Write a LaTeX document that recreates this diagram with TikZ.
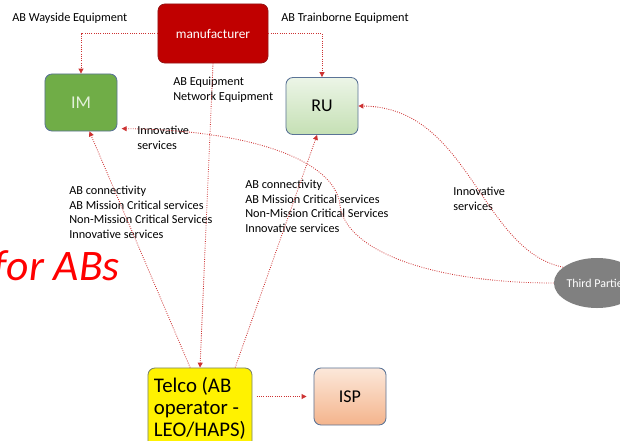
\documentclass[tikz,border=0pt]{standalone}
\usepackage{fontspec}
\setmainfont{Carlito}
\usetikzlibrary{arrows.meta,shapes.geometric}
\definecolor{linkred}{RGB}{205,50,50}
\definecolor{mfrred}{RGB}{192,0,0}
\definecolor{mfredge}{RGB}{150,20,20}
\definecolor{boxedge}{RGB}{90,115,150}
\definecolor{imgreen}{RGB}{112,173,71}
\definecolor{imtext}{RGB}{226,240,217}
\definecolor{rutop}{RGB}{236,245,231}
\definecolor{rubot}{RGB}{197,224,180}
\definecolor{isptop}{RGB}{252,232,218}
\definecolor{ispbot}{RGB}{244,180,140}
\definecolor{telcoedge}{RGB}{120,130,110}
\definecolor{tpgray}{RGB}{128,128,128}
\begin{document}
\begin{tikzpicture}[x=0.025cm,y=-0.025cm,
    box/.style={draw=boxedge,rounded corners=5pt,line width=0.6pt,align=center},
    link/.style={linkred,densely dotted,line width=0.6pt,-{Triangle[length=3.5pt,width=3.5pt]}},
    lbl/.style={font=\fontsize{8.7}{10.3}\selectfont,align=left,inner sep=0pt,anchor=north west} ]
    \useasboundingbox (0,0) rectangle (620,441);
    \node at (213,33.5) [box,fill=mfrred,draw=mfredge,minimum width=2.75cm,minimum height=1.475cm,text=white,font=\fontsize{9.5}{11}\selectfont] (mfr) {manufacturer};
    \node at (81,102.5) [box,fill=imgreen,minimum width=1.8cm,minimum height=1.425cm,text=imtext,font=\fontsize{12.8}{14}\selectfont] (IM) {IM};
    \node at (322,106) [box,top color=rutop,bottom color=rubot,minimum width=1.8cm,minimum height=1.425cm,font=\fontsize{12.8}{14}\selectfont] (RU) {RU};
    \node at (200,408) [box,fill=yellow,draw=telcoedge,minimum width=2.6cm,minimum height=2cm,align=left,font=\fontsize{14.8}{15.6}\selectfont] (telco) {Telco (AB\\operator -\\LEO/HAPS)};
    \node at (350,396.5) [box,top color=isptop,bottom color=ispbot,minimum width=1.8cm,minimum height=1.425cm,font=\fontsize{12.8}{14}\selectfont] (isp) {ISP};
    \node at (597,283) [ellipse,fill=tpgray,inner sep=0pt,minimum width=2.1cm,minimum height=1.25cm,text=white,font=\fontsize{8.5}{10}\selectfont] (tp) {Third Parties};
    \node at (120,280) [anchor=base east,inner sep=0pt,text=red,font=\fontsize{31}{31}\selectfont\itshape] (ttl) {for ABs};
    % labels
    \node at (12,18) [lbl,anchor=west] (l1) {AB Wayside Equipment};
    \node at (281,18) [lbl,anchor=west] (l2) {AB Trainborne Equipment};
    \node at (173,77) [lbl] (l3) {AB Equipment\\Network Equipment};
    \node at (137,126) [lbl] (l4) {Innovative\\services};
    \node at (69,186) [lbl] (l5) {AB connectivity\\AB Mission Critical services\\Non-Mission Critical Services\\Innovative services};
    \node at (245,180) [lbl] (l6) {AB connectivity\\AB Mission Critical services\\Non-Mission Critical Services\\Innovative services};
    \node at (453,187) [lbl] (l7) {Innovative\\services};
    % links
    \draw [link] (mfr.west) -| (IM.north);
    \draw [link] (mfr.east) -| (RU.north);
    \draw [link] (mfr.south) -- (telco.north);
    \draw [link] ([xshift=-7pt]telco.north) -- ([xshift=6pt]IM.south);
    \draw [link] ([xshift=25pt]telco.north) -- ([xshift=-3.5pt]RU.south);
    \draw [link,shorten <=3pt,shorten >=5pt] (telco.east |- isp.west) -- (isp.west);
    \draw [link] (tp.west) .. controls (430,283) and (345,250) .. (340,205) .. controls (335,160) and (250,130) .. ([xshift=3pt,yshift=2pt]IM.south east);
    \draw [link] (tp.155) .. controls (480,250) and (470,107) .. (RU.east);
\end{tikzpicture}
\end{document}
